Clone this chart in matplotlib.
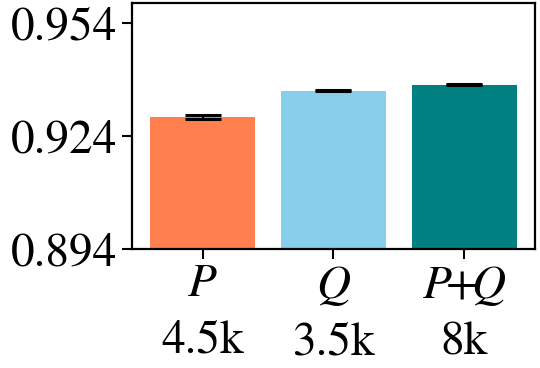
import matplotlib
matplotlib.use("Agg")
import matplotlib.pyplot as plt

# data
methods = ["$P$", "$Q$", r"$P\!{+}\!Q$"]
sizes = ["4.5k", "3.5k", "8k"]
scores = [0.9290, 0.9359, 0.9375]
errors = [0.00057, 0.00012, 0.00012]
colors = ["#FF7F50", "#87CEEB", "#008080"]
yticks = [0.894, 0.924, 0.954]

plt.rcParams["font.family"] = ["STIXGeneral", "Liberation Serif", "DejaVu Serif"]
plt.rcParams["mathtext.fontset"] = "stix"

fig = plt.figure(figsize=(5.4, 3.68), dpi=100)
ax = fig.add_axes([0.2444, 0.3234, 0.7463, 0.6684])

x = range(len(methods))
ax.bar(x, scores, width=0.8, color=colors,
       yerr=errors, capsize=13, error_kw=dict(elinewidth=1.5, capthick=2.2, ecolor="black"))

ax.set_ylim(0.894, 0.9592)
ax.set_yticks(yticks)
ax.set_yticklabels([f"{t:.3f}" for t in yticks])
ax.set_xticks(list(x))
ax.set_xticklabels([f"{m}\n{s}" for m, s in zip(methods, sizes)], linespacing=1.42)
ax.tick_params(axis="both", labelsize=34, width=1.5, length=7)
for s in ax.spines.values():
    s.set_linewidth(1.6)

fig.savefig("out.png", dpi=100)
